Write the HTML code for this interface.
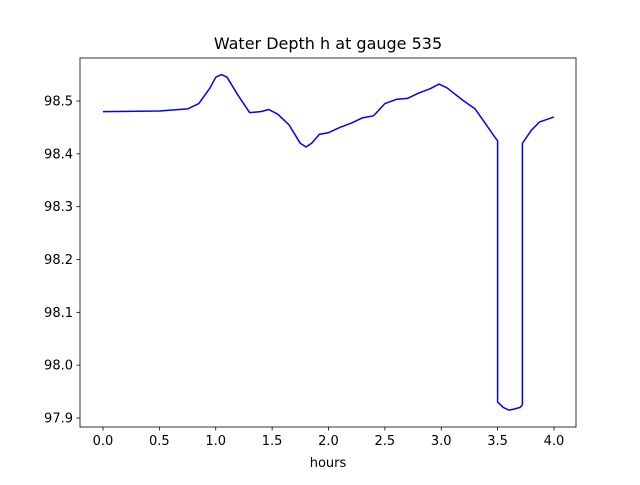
<!DOCTYPE html>
<html><head><meta charset="utf-8"><style>
body{margin:0;background:#fff}
svg text{font-family:"DejaVu Sans","Liberation Sans",sans-serif;fill:#000}
</style></head><body>
<svg width="640" height="480" xmlns="http://www.w3.org/2000/svg">
<rect width="640" height="480" fill="#fff"/>
<g id="plot"></g>
</svg>
<script>
const tVals=[0,0.5,0.75,0.85,0.95,1.0,1.05,1.1,1.2,1.3,1.4,1.47,1.55,1.65,1.75,1.8,1.85,1.92,2.0,2.1,2.2,2.3,2.4,2.5,2.6,2.7,2.8,2.9,2.98,3.05,3.2,3.3,3.4,3.48,3.5,3.5,3.55,3.6,3.65,3.7,3.72,3.72,3.8,3.87,4.0];
const hVals=[98.48,98.481,98.485,98.495,98.525,98.545,98.55,98.545,98.51,98.478,98.48,98.484,98.475,98.455,98.42,98.413,98.42,98.437,98.44,98.45,98.458,98.468,98.472,98.495,98.503,98.505,98.515,98.523,98.532,98.525,98.5,98.485,98.455,98.43,98.425,97.93,97.92,97.915,97.917,97.92,97.925,98.42,98.445,98.46,98.47];
const xTicks=[0,0.5,1.0,1.5,2.0,2.5,3.0,3.5,4.0];
const yTicks=[97.9,98.0,98.1,98.2,98.3,98.4,98.5];
const L=80,R=576,T=58,B=427;
const xs=v=>103+(v-0)*(554-103)/4;
const ys=v=>418-(v-97.9)*(418-101)/0.6;
const ns="http://www.w3.org/2000/svg";
const g=document.getElementById('plot');
function mk(tag,attrs,txt){const e=document.createElementNS(ns,tag);for(const k in attrs)e.setAttribute(k,attrs[k]);if(txt!==undefined)e.textContent=txt;g.appendChild(e);return e;}
let d=tVals.map((t,i)=>(i?'L':'M')+xs(t).toFixed(1)+','+ys(hVals[i]).toFixed(1)).join('');
const line=mk('path',{d:d,fill:'none',stroke:'#0000ff','stroke-width':1.5,'stroke-linejoin':'round'});


const frame=mk('rect',{x:L,y:T,width:R-L,height:B-T,fill:'none',stroke:'#000','stroke-width':0.8});


xTicks.forEach(v=>{const x=xs(v);mk('line',{x1:x,x2:x,y1:B,y2:B+3.5,stroke:'#000','stroke-width':0.8});
const t=mk('text',{x:x,y:B+18,'text-anchor':'middle','font-size':13},v.toFixed(1));

});
yTicks.forEach(v=>{const y=ys(v);mk('line',{x1:L-3.5,x2:L,y1:y,y2:y,stroke:'#000','stroke-width':0.8});
const t=mk('text',{x:L-7,y:y+4.5,'text-anchor':'end','font-size':13},v.toFixed(1));

});
const xl=mk('text',{x:(L+R)/2,y:467,'text-anchor':'middle','font-size':13},'hours');


const ti=mk('text',{x:(L+R)/2,y:49,'text-anchor':'middle','font-size':16},'Water Depth h at gauge 535');


</script>
</body></html>
